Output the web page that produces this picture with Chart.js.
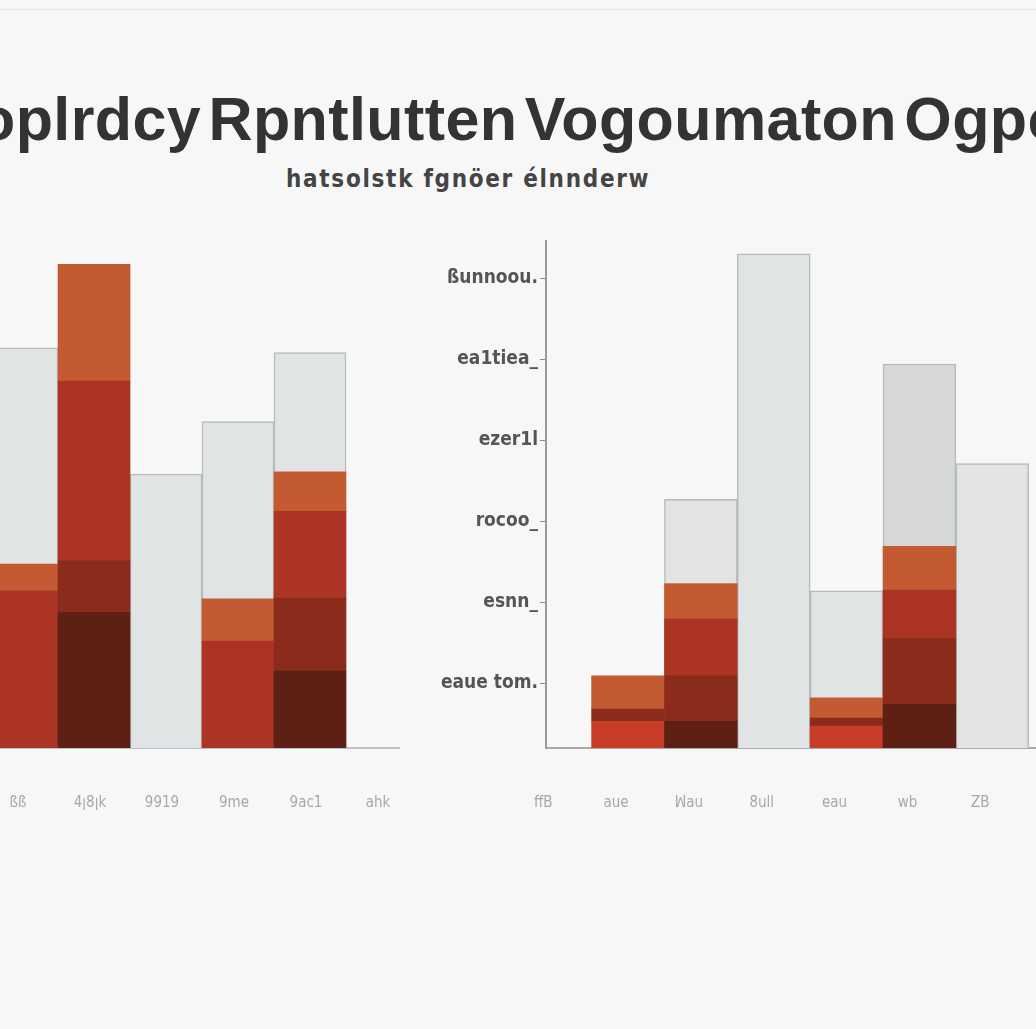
<!DOCTYPE html>
<html>
<head>
<meta charset="utf-8">
<script src="https://cdn.jsdelivr.net/npm/chart.js@4"></script>
<style>
  html, body { margin: 0; padding: 0; background: #f7f7f7; overflow: hidden; }
  #page { position: relative; width: 1036px; height: 1029px; overflow: hidden; }
  #topline { position: absolute; left: 0; top: 9px; width: 1036px; height: 1px; background: #e6e6e6; }
  #title {
    position: absolute; left: -22px; top: 84px; white-space: nowrap;
    font: bold 61px "Liberation Sans", Arial, sans-serif; color: #333; letter-spacing: 0.4px; word-spacing: -10px;
  }
  #subtitle {
    position: absolute; left: 286px; top: 165px; white-space: nowrap;
    font: bold 24px "DejaVu Sans Condensed", sans-serif; color: #444; letter-spacing: 1.7px;
  }
  .box { position: absolute; top: 240px; height: 610px; }
  #leftBox { left: 0; width: 400px; }
  #rightBox { left: 400px; width: 636px; }
</style>
</head>
<body>
<div id="page">
  <div id="topline"></div>
  <div id="title">oplrdcy Rpntlutten Vogoumaton Ogpo</div>
  <div id="subtitle">hatsolstk fgnöer élnnderw</div>
  <div class="box" id="leftBox"><canvas id="leftChart"></canvas></div>
  <div class="box" id="rightBox"><canvas id="rightChart"></canvas></div>
</div>
<script>
// series order is bottom -> top of each stack
const seriesNames = ['deep', 'bright', 'dark', 'red', 'orange', 'grey'];

// left panel, 5 bars
const leftDeep   = [0, 16.7, 0, 0, 9.5];
const leftBright = [0, 0, 0, 0, 0];
const leftDark   = [0, 6.4, 0, 0, 9.0];
const leftRed    = [19.4, 22.2, 0, 13.2, 10.7];
const leftOrange = [3.3, 14.4, 0, 5.2, 4.9];
const leftGrey   = [26.7, 0, 33.8, 21.9, 14.7];
const leftTickLabels = ['ßß', '4ꞁ8ꞁk', '9919', '9me', '9ac1', 'ahk'];

// right panel, 6 bars
const rightDeep   = [0, 3.3, 0, 0, 5.4, 0];
const rightBright = [3.3, 0, 0, 2.7, 0, 0];
const rightDark   = [1.5, 5.6, 0, 1.0, 8.1, 0];
const rightRed    = [0, 7.0, 0, 0, 6.0, 0];
const rightOrange = [4.1, 4.4, 0, 2.5, 5.4, 0];
const rightGrey   = [0, 10.4, 61.0, 13.2, 22.5, 35.1];
const rightTickLabels = ['ffB', 'aue', 'ꟽau', '8ull', 'eau', 'wb', 'ZB'];

// y axis (right panel only shows it)
const yTickValues = [8, 18, 28, 38, 48, 58];
const yTickLabels = ['eaue tom.', 'esnn_', 'rocoo_', 'ezer1l', 'ea1tiea_', 'ßunnoou.'];

const colors = {
  deep: '#5e2014', bright: '#c93d28', dark: '#8b2b1c',
  red: '#ab3424', orange: '#c35a31', grey: '#e1e4e4'
};
const greyShadeRight = ['#e1e4e4', '#e2e4e4', '#e1e4e4', '#e1e4e4', '#d6d8d8', '#e2e4e4'];

// turn per-series heights into floating [from, to] bars
function buildDatasets(seriesValues, greyShades) {
  const base = seriesValues[0].map(() => 0);
  return seriesValues.map((values, s) => {
    const name = seriesNames[s];
    const data = [];
    values.forEach((v, i) => {
      if (!v) return;
      data.push({ x: i + 1, y: [base[i], base[i] + v] });
      base[i] += v;
    });
    const isGrey = name === 'grey';
    return {
      label: name,
      data: data,
      grouped: false,
      barPercentage: 1,
      categoryPercentage: 1,
      backgroundColor: isGrey && greyShades
        ? (ctx) => greyShades[ctx.raw.x - 1]
        : colors[name],
      borderColor: isGrey ? '#b7baba' : 'transparent',
      borderWidth: isGrey ? 1.5 : 0,
      borderSkipped: 'bottom'
    };
  });
}

const yMax = 62.7;

// drop the padding chart.js reserves for edge labels
function noPad(s) {
  s.paddingTop = 0; s.paddingBottom = 0; s.paddingLeft = 0; s.paddingRight = 0;
}

function xAxis(min, max, tickVals, labels, labelOffset, borderColor) {
  return {
    type: 'linear',
    offset: false,
    min: min,
    max: max,
    afterBuildTicks: (s) => { s.ticks = tickVals.map(v => ({ value: v })); },
    afterFit: (s) => { s.height = 102; noPad(s); },
    grid: { display: false, offset: false },
    border: { display: true, color: borderColor, width: 2 },
    ticks: {
      autoSkip: false,
      maxRotation: 0,
      padding: 38,
      labelOffset: labelOffset,
      color: '#a8a8a8',
      font: { family: 'DejaVu Sans Condensed', size: 15 },
      callback: (v, i) => labels[i]
    }
  };
}

new Chart(document.getElementById('leftChart'), {
  type: 'bar',
  data: {
    datasets: buildDatasets([leftDeep, leftBright, leftDark, leftRed, leftOrange, leftGrey], null)
  },
  options: {
    responsive: true,
    maintainAspectRatio: false,
    animation: false,
    layout: { padding: 0 },
    plugins: { legend: { display: false }, tooltip: { enabled: false } },
    scales: {
      x: xAxis(0.694, 6.25, [1, 2, 3, 4, 5, 6], leftTickLabels, -4, '#b9c6cb'),
      y: { display: false, min: 0, max: yMax }
    }
  }
});

new Chart(document.getElementById('rightChart'), {
  type: 'bar',
  data: {
    datasets: buildDatasets([rightDeep, rightBright, rightDark, rightRed, rightOrange, rightGrey], greyShadeRight)
  },
  options: {
    responsive: true,
    maintainAspectRatio: false,
    animation: false,
    layout: { padding: 0 },
    plugins: { legend: { display: false }, tooltip: { enabled: false } },
    scales: {
      x: xAxis(-0.126, 6.6, [0, 1, 2, 3, 4, 5, 6], rightTickLabels, -12, '#a8a8a8'),
      y: {
        min: 0,
        max: yMax,
        afterBuildTicks: (s) => { s.ticks = yTickValues.map(v => ({ value: v })); },
        afterFit: (s) => { s.width = 146; noPad(s); },
        grid: { drawOnChartArea: false, drawTicks: true, tickLength: 6, color: '#8a8a8a' },
        border: { display: true, color: '#999999', width: 2 },
        ticks: {
          padding: 2,
          color: '#555555',
          font: { family: 'DejaVu Sans Condensed', size: 19, weight: 'bold' },
          callback: (v, i) => yTickLabels[i]
        }
      }
    }
  }
});
</script>
</body>
</html>
